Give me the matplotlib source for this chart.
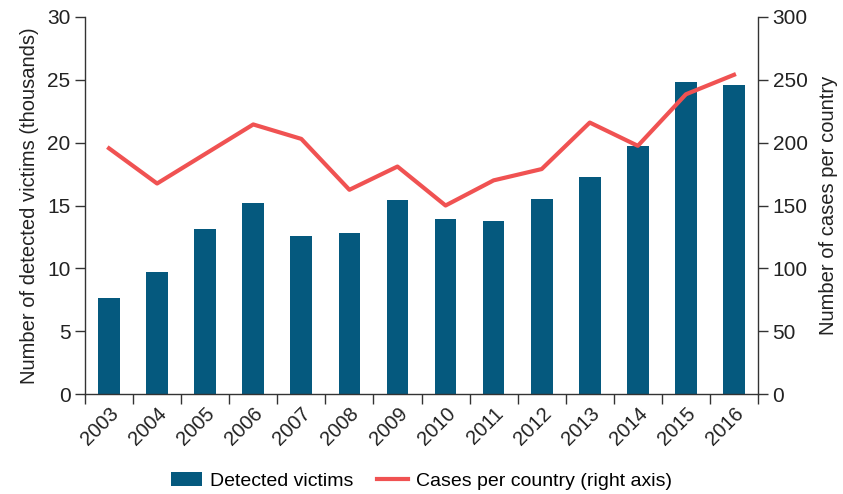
import numpy as np
import matplotlib.pyplot as plt
from matplotlib.ticker import FixedLocator

plt.rcParams['font.family'] = ['Liberation Sans', 'DejaVu Sans']

years = ['2003', '2004', '2005', '2006', '2007', '2008', '2009',
         '2010', '2011', '2012', '2013', '2014', '2015', '2016']
victims = [7.65, 9.7, 13.1, 15.2, 12.6, 12.85, 15.4,
           13.95, 13.8, 15.55, 17.3, 19.75, 24.8, 24.6]
cases = [195.5, 167.5, 191, 214.5, 203, 162.5, 181,
         150, 170, 179, 216, 197.5, 238.5, 254]

bar_color = '#05597e'
line_color = '#f05252'
spine_color = '#333333'
text_color = '#222222'

fig = plt.figure(figsize=(8.43, 4.94), dpi=100)
ax = fig.add_axes([0.1008, 0.2024, 0.7984, 0.7632])
ax2 = ax.twinx()

x = np.arange(len(years))
bars = ax.bar(x, victims, width=0.45, color=bar_color, label='Detected victims', zorder=2)
line, = ax2.plot(x, cases, color=line_color, lw=3, label='Cases per country (right axis)', zorder=3)

ax.set_xlim(-0.5, len(years) - 0.5)
ax.set_ylim(0, 30)
ax2.set_ylim(0, 300)
ax.set_yticks(range(0, 31, 5))
ax2.set_yticks(range(0, 301, 50))

# year labels centred on bars, tick marks on category boundaries
ax.set_xticks(x)
ax.set_xticklabels(years, rotation=45, ha='right', rotation_mode='anchor', fontsize=14.5)
ax.tick_params(axis='x', which='major', length=0, pad=7, labelcolor=text_color)
ax.xaxis.set_minor_locator(FixedLocator(np.arange(-0.5, len(years), 1)))
ax.tick_params(axis='x', which='minor', length=7, width=1, color=spine_color)

ax.tick_params(axis='y', labelsize=15, length=7, width=1, color=spine_color, labelcolor=text_color)
ax2.tick_params(axis='y', labelsize=15, length=7, width=1, color=spine_color, labelcolor=text_color)

for a in (ax, ax2):
    a.spines['top'].set_visible(False)
    for s in ('left', 'right', 'bottom'):
        a.spines[s].set_color(spine_color)
        a.spines[s].set_linewidth(1)
ax.spines['right'].set_visible(False)
ax2.spines['left'].set_visible(False)
ax2.spines['bottom'].set_visible(False)

ax.set_ylabel('Number of detected victims (thousands)', fontsize=14.5, color=text_color, labelpad=6)
ax2.set_ylabel('Number of cases per country', fontsize=14.5, color=text_color, labelpad=8)

fig.legend([bars, line], ['Detected victims', 'Cases per country (right axis)'],
           loc='center', bbox_to_anchor=(0.5, 0.026), ncol=2, frameon=False,
           fontsize=14, handlelength=1.6, columnspacing=1.2, handletextpad=0.4)

fig.savefig('out.png', dpi=100)
